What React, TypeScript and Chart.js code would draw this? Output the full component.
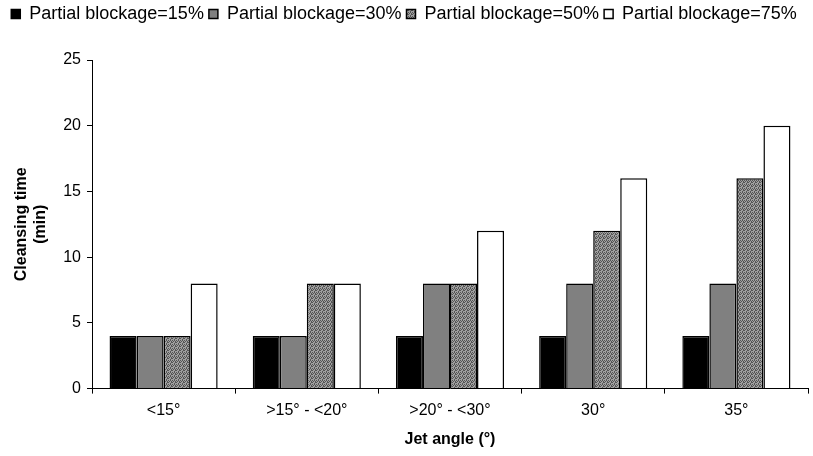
import React, { useEffect, useRef } from "react";
import { Chart, registerables } from "chart.js";

Chart.register(...registerables);

const categories = ["<15°", ">15° - <20°", ">20° - <30°", "30°", "35°"];
const seriesLabels = [
  "Partial blockage=15%",
  "Partial blockage=30%",
  "Partial blockage=50%",
  "Partial blockage=75%",
];
const blockage15 = [4, 4, 4, 4, 4];
const blockage30 = [4, 4, 8, 8, 8];
const blockage50 = [4, 8, 8, 12, 16];
const blockage75 = [8, 8, 12, 16, 20];
const yTicks = [0, 5, 10, 15, 20, 25];

const FONT = "'Liberation Sans', Arial, Helvetica, sans-serif";

function makeDither(): CanvasPattern | string {
  const c = document.createElement("canvas");
  c.width = 4;
  c.height = 4;
  const ctx = c.getContext("2d");
  if (!ctx) return "#808080";
  ctx.fillStyle = "#a0a0a0";
  ctx.fillRect(0, 0, 4, 4);
  ctx.fillStyle = "#555555";
  const pts = [
    [0, 0], [2, 0], [1, 1], [3, 1], [0, 2], [3, 2], [2, 3],
  ];
  pts.forEach(([x, y]) => ctx.fillRect(x, y, 1, 1));
  const p = ctx.createPattern(c, "repeat");
  return p || "#808080";
}

const legendSpacer = {
  id: "legendSpacer",
  beforeInit(chart: any) {
    const legend = chart.legend;
    if (!legend) return;
    const origFit = legend.fit;
    legend.fit = function () {
      origFit.call(this);
      this.height += 27;
    };
  },
};

export default function App() {
  const ref = useRef<HTMLCanvasElement>(null);
  useEffect(() => {
    document.body.style.margin = "0";
    const canvas = ref.current;
    if (!canvas) return;
    const dither = makeDither();
    const data = [blockage15, blockage30, blockage50, blockage75];
    const fills: any[] = ["#000000", "#808080", dither, "#ffffff"];
    const chart = new Chart(canvas, {
      type: "bar",
      plugins: [legendSpacer],
      data: {
        labels: categories,
        datasets: data.map((d, i) => ({
          label: seriesLabels[i],
          data: d,
          backgroundColor: fills[i],
          borderColor: "#000000",
          borderWidth: 1.5,
          categoryPercentage: 0.755,
          barPercentage: 1,
        })),
      },
      options: {
        animation: false,
        responsive: false,
        maintainAspectRatio: false,
        layout: { padding: { left: 0, right: 5, top: 0, bottom: 2 } },
        plugins: {
          tooltip: { enabled: false },
          legend: {
            position: "top",
            labels: {
              color: "#000",
              boxWidth: 9,
              boxHeight: 9,
              padding: 5,
              font: { family: FONT, size: 18 },
            },
          },
        },
        scales: {
          x: {
            offset: true,
            grid: {
              display: true,
              offset: true,
              drawOnChartArea: false,
              drawTicks: true,
              tickLength: 5,
              color: "#000",
            },
            border: { display: true, color: "#000", width: 1 },
            ticks: {
              color: "#000",
              font: { family: FONT, size: 16 },
              padding: 7,
              maxRotation: 0,
            },
            title: {
              display: true,
              text: "Jet angle (°)",
              color: "#000",
              font: { family: FONT, size: 16, weight: "bold" },
              padding: { top: 3, bottom: 5 },
            },
          },
          y: {
            min: 0,
            max: 25,
            afterBuildTicks: (scale: any) => {
              scale.ticks = yTicks.map((v) => ({ value: v }));
            },
            afterFit: (scale: any) => {
              scale.width = 92;
            },
            grid: {
              display: true,
              drawOnChartArea: false,
              drawTicks: true,
              tickLength: 5,
              color: "#000",
            },
            border: { display: true, color: "#000", width: 1 },
            ticks: {
              color: "#000",
              font: { family: FONT, size: 16 },
              padding: 6,
            },
            title: {
              display: true,
              text: ["Cleansing time", "(min)"],
              color: "#000",
              font: { family: FONT, size: 16, weight: "bold" },
              padding: { top: 12, bottom: 0 },
            },
          },
        },
      },
    });
    return () => chart.destroy();
  }, []);
  return (
    <div style={{ width: 813, height: 456, background: "#fff" }}>
      <canvas ref={ref} width={813} height={456} style={{ display: "block" }} />
    </div>
  );
}
